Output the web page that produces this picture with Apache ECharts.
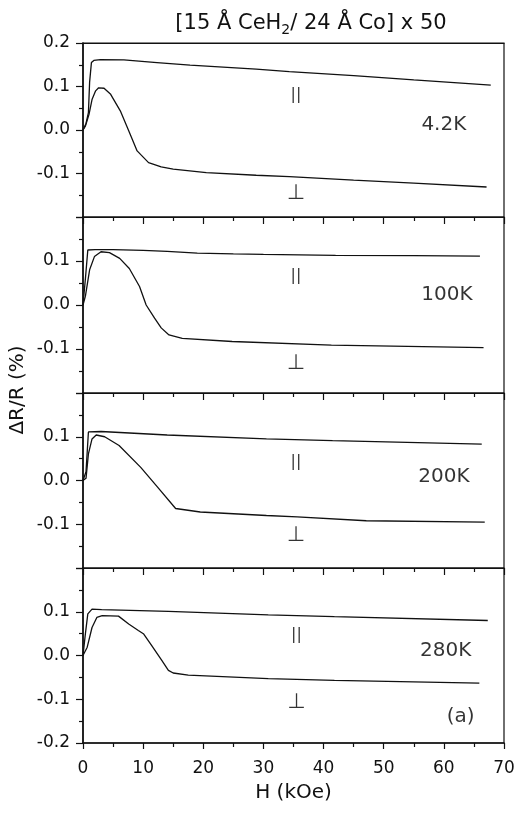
<!DOCTYPE html>
<html>
<head>
<meta charset="utf-8">
<script src="https://cdn.jsdelivr.net/npm/echarts@6/dist/echarts.min.js"></script>
<style>html,body{margin:0;padding:0;background:#fff;}#c{width:514px;height:814px;}</style>
</head>
<body>
<div id="c"></div>
<script>
// ---- data (H in kOe, dR/R in %) ----
const xTicks = [0, 10, 20, 30, 40, 50, 60, 70];
const panelNames = ['4.2K', '100K', '200K', '280K'];

const par42_H = [0, 0.5, 0.9, 1.1, 1.4, 1.8, 2.9, 6.8, 12.3, 17.8, 28.8, 34.3, 45, 55, 67.8];
const par42_V = [0, 0.015, 0.04, 0.11, 0.155, 0.160, 0.162, 0.161, 0.155, 0.149, 0.140, 0.134, 0.125, 0.115, 0.103];
const perp42_H = [0, 0.4, 1.0, 1.5, 2.1, 2.6, 3.5, 4.6, 6.2, 7.6, 9.0, 10.9, 13, 15, 20.5, 28.8, 34.3, 45, 55, 67.1];
const perp42_V = [0, 0.009, 0.036, 0.07, 0.09, 0.097, 0.096, 0.082, 0.044, -0.002, -0.048, -0.075, -0.085, -0.090, -0.098, -0.104, -0.107, -0.115, -0.122, -0.131];

const par100_H = [0, 0.4, 0.8, 2, 5, 10, 14, 19, 25, 30, 42, 55, 66];
const par100_V = [0, 0.06, 0.125, 0.126, 0.126, 0.124, 0.122, 0.118, 0.116, 0.115, 0.113, 0.112, 0.111];
const perp100_H = [0, 0.4, 1.1, 1.9, 3.0, 4.4, 6.1, 7.7, 9.4, 10.5, 11.9, 13, 14.3, 16.5, 24.8, 41.3, 66.6];
const perp100_V = [0, 0.02, 0.080, 0.110, 0.121, 0.119, 0.106, 0.083, 0.042, 0.0, -0.03, -0.052, -0.068, -0.076, -0.083, -0.091, -0.097];

const par200_H = [0, 0.5, 0.9, 3.0, 14.0, 30.5, 41.5, 66.3];
const par200_V = [0, 0.02, 0.111, 0.112, 0.104, 0.095, 0.091, 0.083];
const perp200_H = [0, 0.5, 0.9, 1.5, 2.2, 3.6, 6.0, 9.6, 12.4, 15.4, 19.5, 30.5, 35.6, 47.1, 66.8];
const perp200_V = [0, 0.005, 0.061, 0.095, 0.104, 0.100, 0.080, 0.030, -0.015, -0.064, -0.072, -0.080, -0.083, -0.092, -0.095];

const par280_H = [0, 0.4, 0.8, 1.5, 3.1, 14.2, 30.8, 41.8, 67.3];
const par280_V = [0, 0.05, 0.095, 0.106, 0.105, 0.101, 0.093, 0.089, 0.080];
const perp280_H = [0, 0.7, 1.5, 2.3, 3.2, 5.9, 7.6, 9.2, 10.1, 11.4, 13.1, 14.2, 15.0, 17.5, 30.8, 41.8, 65.9];
const perp280_V = [0, 0.019, 0.064, 0.087, 0.091, 0.090, 0.072, 0.057, 0.049, 0.023, -0.011, -0.034, -0.040, -0.045, -0.053, -0.057, -0.063];

// annotation anchors (data coords)
const parMarkX = [35.4, 35.4, 35.4, 35.5];
const parMarkY = [0.08, 0.066, 0.043, 0.048];
const perpMarkY = [-0.147, -0.132, -0.125, -0.107];
const nameX = [60, 60.5, 60, 60.3];
const nameY = [0.011, 0.023, 0.009, 0.011];
const panelTag = {text: '(a)', x: 62.8, y: -0.139};

// y tick labels shown in each panel (tenths)
const yLabelsShown = [[2, 1, 0, -1], [1, 0, -1], [1, 0, -1], [1, 0, -1, -2]];

const pars = [[par42_H, par42_V], [par100_H, par100_V], [par200_H, par200_V], [par280_H, par280_V]];
const perps = [[perp42_H, perp42_V], [perp100_H, perp100_V], [perp200_H, perp200_V], [perp280_H, perp280_V]];

// ---- layout ----
const gridTops = [43, 217, 393, 568];
const gridBottoms = [217, 393, 568, 743];
const FONT = 'DejaVu Sans';
const INK = '#111';

function zip(a, b) { return a.map((v, i) => [v, b[i]]); }

const grids = gridTops.map((t, i) => ({
  left: 83, width: 421, top: t, height: gridBottoms[i] - t,
  containLabel: false, outerBoundsMode: 'none',
  show: true, borderColor: INK, borderWidth: 1.2, backgroundColor: 'transparent'
}));

const xAxes = [];
const yAxes = [];
const series = [];
const seriesX = [];

for (let i = 0; i < 4; i++) {
  xAxes.push({
    type: 'value', gridIndex: i, min: 0, max: 70, interval: 10,
    position: 'top',
    axisLine: {show: true, onZero: false, lineStyle: {color: INK, width: 1.2}},
    axisTick: {show: i > 0, inside: true, length: 7, lineStyle: {color: INK, width: 1.2}},
    minorTick: {show: i > 0, splitNumber: 2, length: 4, lineStyle: {color: INK, width: 1.2}},
    axisLabel: {show: false},
    splitLine: {show: false}
  });
  seriesX.push(xAxes.length - 1);
  const allowed = yLabelsShown[i];
  yAxes.push({
    type: 'value', gridIndex: i, min: -0.2, max: 0.2, interval: 0.1,
    position: 'left',
    axisLine: {show: true, onZero: false, lineStyle: {color: INK, width: 1.6}},
    axisTick: {show: true, inside: false, length: 7, lineStyle: {color: INK, width: 1.2}},
    minorTick: {show: true, splitNumber: 2, length: 4, lineStyle: {color: INK, width: 1.2}},
    axisLabel: {
      show: true, margin: 13, color: INK, fontFamily: FONT, fontSize: 17,
      showMinLabel: true, showMaxLabel: true,
      formatter: function (v) {
        const k = Math.round(v * 10);
        return allowed.indexOf(k) >= 0 ? (k / 10).toFixed(1) : '';
      }
    },
    splitLine: {show: false}
  });
}
xAxes.push({
  type: 'value', gridIndex: 3, min: 0, max: 70, interval: 10,
  position: 'bottom',
  name: 'H (kOe)', nameLocation: 'middle', nameGap: 40,
  nameTextStyle: {fontFamily: FONT, fontSize: 20, color: INK},
  axisLine: {show: true, onZero: false, lineStyle: {color: INK, width: 1.6}},
  axisTick: {show: true, inside: false, length: 6, lineStyle: {color: INK, width: 1.2}},
  minorTick: {show: true, splitNumber: 2, length: 4, lineStyle: {color: INK, width: 1.2}},
  axisLabel: {show: true, margin: 17, color: INK, fontFamily: FONT, fontSize: 17,
    showMinLabel: true, showMaxLabel: true,
    formatter: function (v) { return xTicks.indexOf(Math.round(v)) >= 0 ? String(Math.round(v)) : ''; }},
  splitLine: {show: false}
});
seriesX[3] = xAxes.length - 1;

for (let i = 0; i < 4; i++) {
  const lineBase = {
    type: 'line', xAxisIndex: seriesX[i], yAxisIndex: i,
    symbol: 'none', showSymbol: false, silent: true, smooth: false,
    lineStyle: {color: INK, width: 1.3}, z: 3
  };
  series.push(Object.assign({}, lineBase, {name: 'par' + i, data: zip(pars[i][0], pars[i][1])}));
  series.push(Object.assign({}, lineBase, {name: 'perp' + i, data: zip(perps[i][0], perps[i][1])}));
  const marks = [
    {name: '||', value: [parMarkX[i], parMarkY[i]], label: {fontSize: 16}},
    {name: '⊥', value: [parMarkX[i], perpMarkY[i]], label: {fontSize: 21}},
    {name: panelNames[i], value: [nameX[i], nameY[i]], label: {fontSize: 20}}
  ];
  if (i === 3) marks.push({name: panelTag.text, value: [panelTag.x, panelTag.y], label: {fontSize: 20}});
  series.push({
    type: 'scatter', xAxisIndex: seriesX[i], yAxisIndex: i, silent: true,
    symbol: 'circle', symbolSize: 1, itemStyle: {color: 'rgba(0,0,0,0)'},
    label: {show: true, position: 'inside', formatter: '{b}', color: '#000', fontFamily: FONT},
    data: marks, z: 5
  });
}

const chart = echarts.init(document.getElementById('c'), null, {renderer: 'canvas'});
chart.setOption({
  animation: false,
  backgroundColor: '#fff',
  textStyle: {fontFamily: FONT},
  title: {
    text: '{a|[15 Å CeH}{s|2}{a|/ 24 Å Co] x 50}',
    left: 306, top: 6, textAlign: 'center',
    textStyle: {
      fontWeight: 'normal',
      rich: {
        a: {fontSize: 21, fontFamily: FONT, fontWeight: 'normal', color: INK, lineHeight: 26},
        s: {fontSize: 14, fontFamily: FONT, fontWeight: 'normal', color: INK, lineHeight: 8, verticalAlign: 'bottom'}
      }
    }
  },
  grid: grids,
  xAxis: xAxes,
  yAxis: yAxes,
  series: series,
  graphic: [{
    type: 'text', x: 18, y: 390, rotation: Math.PI / 2,
    style: {text: 'ΔR/R (%)', font: '20px "DejaVu Sans"', fill: INK, textAlign: 'center', textVerticalAlign: 'middle'}
  }]
});
</script>
</body>
</html>
